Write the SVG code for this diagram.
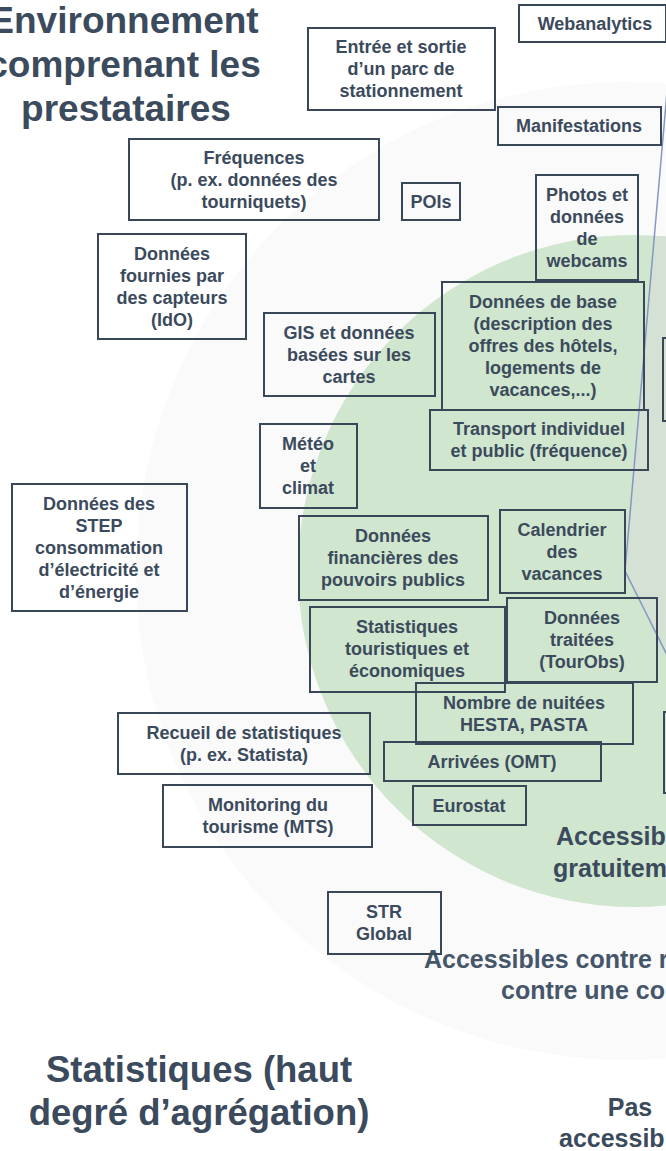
<svg xmlns="http://www.w3.org/2000/svg" width="666" height="1151" viewBox="0 0 666 1151">
<style>
.box{fill:none;stroke:#3a4759;stroke-width:2}
.t{font-family:"Liberation Sans",Arial,sans-serif;font-weight:bold;font-size:18px;fill:#3b4a5c;text-anchor:middle}
.title{font-family:"Liberation Sans",Arial,sans-serif;font-weight:bold;font-size:37px;fill:#3b4a5c;text-anchor:middle}
.zone{font-family:"Liberation Sans",Arial,sans-serif;font-weight:bold;font-size:25px;fill:#3b4a5c}
.zs{font-family:"Liberation Sans",Arial,sans-serif;font-weight:bold;font-size:25px;fill:#46566a}
.div{stroke:#8598c2;stroke-width:1.5;fill:none}
</style>
<defs>
<clipPath id="greenClip"><circle cx="634" cy="571" r="336"/></clipPath>
</defs>
<rect width="666" height="1151" fill="#ffffff"/>
<g id="zones">
<circle cx="625" cy="571" r="489" fill="#fafafa"/>
<circle cx="634" cy="571" r="336" fill="#d0e6ce"/>
<polygon points="625,571 671.5,40 760,40 760,750 714.5,750" fill="#d6e1d5" clip-path="url(#greenClip)"/>
</g>
<g id="connectors">
<line class="div" x1="625" y1="571" x2="667.7" y2="84"/>
<line class="div" x1="625" y1="571" x2="700" y2="721"/>
</g>
<g id="labels">
<text class="title" x="124" y="33">Environnement</text>
<text class="title" x="124" y="77">comprenant les</text>
<text class="title" x="126" y="121">prestataires</text>
<text class="title" x="199" y="1082" style="font-size:36.5px">Statistiques (haut</text>
<text class="title" x="199" y="1125" style="font-size:36.5px">degré d’agrégation)</text>
<text class="zone" x="556" y="845">Accessibles</text>
<text class="zone" x="553" y="877">gratuitement</text>
<text class="zs" x="424" y="968">Accessibles contre rémunération ou</text>
<text class="zs" x="501" y="999">contre une contrepartie</text>
<text class="zone" x="630" y="1116" style="text-anchor:middle">Pas</text>
<text class="zone" x="559" y="1147">accessibles</text>
</g>
<g id="n-webanalytics"><rect class="box" x="519" y="5" width="147" height="37"/><text class="t" x="595" y="30">Webanalytics</text></g>
<g id="n-parc"><rect class="box" x="308" y="28" width="187" height="82"/><text class="t" x="401" y="53"><tspan x="401">Entrée et sortie</tspan><tspan x="401" dy="22">d’un parc de</tspan><tspan x="401" dy="22">stationnement</tspan></text></g>
<g id="n-manifestations"><rect class="box" x="498" y="107" width="163" height="38"/><text class="t" x="579" y="132">Manifestations</text></g>
<g id="n-frequences"><rect class="box" x="129" y="139" width="250" height="81"/><text class="t" x="254" y="164"><tspan x="254">Fréquences</tspan><tspan x="254" dy="22">(p. ex. données des</tspan><tspan x="254" dy="22">tourniquets)</tspan></text></g>
<g id="n-pois"><rect class="box" x="402" y="183" width="58" height="37"/><text class="t" x="431" y="208">POIs</text></g>
<g id="n-webcams"><rect class="box" x="536" y="175" width="102" height="105"/><text class="t" x="587" y="201"><tspan x="587">Photos et</tspan><tspan x="587" dy="22">données</tspan><tspan x="587" dy="22">de</tspan><tspan x="587" dy="22">webcams</tspan></text></g>
<g id="n-capteurs"><rect class="box" x="98" y="234" width="148" height="105"/><text class="t" x="172" y="260"><tspan x="172">Données</tspan><tspan x="172" dy="22">fournies par</tspan><tspan x="172" dy="22">des capteurs</tspan><tspan x="172" dy="22">(IdO)</tspan></text></g>
<g id="n-gis"><rect class="box" x="264" y="313" width="171" height="83"/><text class="t" x="349" y="339"><tspan x="349">GIS et données</tspan><tspan x="349" dy="22">basées sur les</tspan><tspan x="349" dy="22">cartes</tspan></text></g>
<g id="n-base"><rect class="box" x="442" y="282" width="202" height="128"/><text class="t" x="543" y="308"><tspan x="543">Données de base</tspan><tspan x="543" dy="22">(description des</tspan><tspan x="543" dy="22">offres des hôtels,</tspan><tspan x="543" dy="22">logements de</tspan><tspan x="543" dy="22">vacances,...)</tspan></text></g>
<g id="n-transport"><rect class="box" x="430" y="410" width="218" height="60"/><text class="t" x="539" y="435"><tspan x="539">Transport individuel</tspan><tspan x="539" dy="22">et public (fréquence)</tspan></text></g>
<g id="n-right1"><rect class="box" x="663" y="338" width="40" height="83"/></g>
<g id="n-meteo"><rect class="box" x="260" y="424" width="97" height="84"/><text class="t" x="308" y="450"><tspan x="308">Météo</tspan><tspan x="308" dy="22">et</tspan><tspan x="308" dy="22">climat</tspan></text></g>
<g id="n-step"><rect class="box" x="12" y="484" width="175" height="127"/><text class="t" x="99" y="510"><tspan x="99">Données des</tspan><tspan x="99" dy="22">STEP</tspan><tspan x="99" dy="22">consommation</tspan><tspan x="99" dy="22">d’électricité et</tspan><tspan x="99" dy="22">d’énergie</tspan></text></g>
<g id="n-financieres"><rect class="box" x="299" y="516" width="189" height="84"/><text class="t" x="393" y="542"><tspan x="393">Données</tspan><tspan x="393" dy="22">financières des</tspan><tspan x="393" dy="22">pouvoirs publics</tspan></text></g>
<g id="n-calendrier"><rect class="box" x="500" y="510" width="125" height="83"/><text class="t" x="562" y="536"><tspan x="562">Calendrier</tspan><tspan x="562" dy="22">des</tspan><tspan x="562" dy="22">vacances</tspan></text></g>
<g id="n-stattour"><rect class="box" x="310" y="607" width="195" height="85"/><text class="t" x="407" y="633"><tspan x="407">Statistiques</tspan><tspan x="407" dy="22">touristiques et</tspan><tspan x="407" dy="22">économiques</tspan></text></g>
<g id="n-tourobs"><rect class="box" x="507" y="598" width="150" height="84"/><text class="t" x="582" y="624"><tspan x="582">Données</tspan><tspan x="582" dy="22">traitées</tspan><tspan x="582" dy="22">(TourObs)</tspan></text></g>
<g id="n-nuitees"><rect class="box" x="416" y="683" width="217" height="61"/><text class="t" x="524" y="709"><tspan x="524">Nombre de nuitées</tspan><tspan x="524" dy="22">HESTA, PASTA</tspan></text></g>
<g id="n-recueil"><rect class="box" x="118" y="713" width="252" height="61"/><text class="t" x="244" y="739"><tspan x="244">Recueil de statistiques</tspan><tspan x="244" dy="22">(p. ex. Statista)</tspan></text></g>
<g id="n-arrivees"><rect class="box" x="384" y="742" width="217" height="39"/><text class="t" x="492" y="768">Arrivées (OMT)</text></g>
<g id="n-right2"><rect class="box" x="664" y="712" width="40" height="81"/></g>
<g id="n-mts"><rect class="box" x="163" y="785" width="209" height="62"/><text class="t" x="268" y="811"><tspan x="268">Monitoring du</tspan><tspan x="268" dy="22">tourisme (MTS)</tspan></text></g>
<g id="n-eurostat"><rect class="box" x="413" y="786" width="113" height="39"/><text class="t" x="469" y="812">Eurostat</text></g>
<g id="n-str"><rect class="box" x="328" y="892" width="113" height="62"/><text class="t" x="384" y="918"><tspan x="384">STR</tspan><tspan x="384" dy="22">Global</tspan></text></g>
</svg>
